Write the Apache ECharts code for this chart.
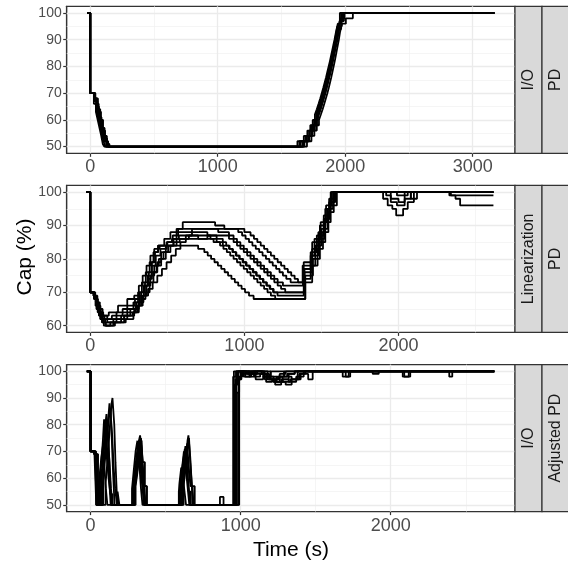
<!DOCTYPE html>
<html><head><meta charset="utf-8">
<script src="https://cdn.jsdelivr.net/npm/echarts@6/dist/echarts.min.js"></script>
<style>html,body{margin:0;padding:0;background:#fff}#c{width:568px;height:562px}</style>
</head><body><div id="c"></div>
<script>
// ---------- data (time in s, cap in %) ----------
const ioPdRuns = [
 [[-25,100],[0,70],[32,68],[48,65],[62,62],[76,58],[90,55],[104,52],[118,50],[1650,52],[1695,54],[1722,56],[1743,58],[1761,60],[1777,62],[1791,64],[1804,66],[1816,68],[1828,70],[1840,72],[1851,74],[1862,76],[1872,78],[1881,80],[1890,82],[1899,84],[1908,86],[1916,88],[1925,90],[1937,93],[1950,96],[1968,100],[3170,100]],
 [[-25,100],[0,70],[38,67],[56,64],[72,61],[88,57],[104,54],[122,52],[140,50],[1680,52],[1718,54],[1742,56],[1762,58],[1779,60],[1794,62],[1808,64],[1821,66],[1833,68],[1845,70],[1856,72],[1866,74],[1876,76],[1886,78],[1895,80],[1904,82],[1912,84],[1921,86],[1930,88],[1939,90],[1952,94],[1968,97],[1990,100],[3170,100]],
 [[-25,100],[0,70],[28,66],[44,63],[58,60],[72,57],[86,54],[98,51],[110,50],[1625,52],[1675,54],[1703,56],[1726,58],[1745,60],[1762,62],[1777,64],[1791,66],[1804,68],[1816,70],[1828,72],[1839,74],[1850,76],[1860,78],[1870,80],[1880,82],[1889,84],[1898,86],[1907,88],[1916,90],[1928,93],[1942,96],[1958,100],[3170,100]],
 [[-25,100],[0,70],[35,69],[50,66],[66,62],[80,59],[95,56],[110,53],[128,50],[1665,52],[1708,54],[1733,56],[1753,58],[1770,60],[1786,62],[1800,64],[1813,66],[1825,68],[1837,70],[1849,72],[1860,74],[1870,76],[1880,78],[1889,80],[1898,82],[1906,84],[1915,86],[1923,88],[1931,90],[1944,92],[1956,95],[1972,98],[1995,100],[3170,100]],
 [[-25,100],[0,70],[40,68],[60,64],[78,60],[96,57],[112,54],[130,51],[150,50],[1700,52],[1735,54],[1758,56],[1777,58],[1794,60],[1809,62],[1823,64],[1836,66],[1848,68],[1860,70],[1871,72],[1881,74],[1891,76],[1900,78],[1909,80],[1918,82],[1926,84],[1934,86],[1942,88],[1950,90],[1960,93],[1975,96],[2005,98],[2060,100],[3170,100]],
 [[-25,100],[0,70],[30,67],[46,64],[60,61],[75,58],[92,55],[108,52],[125,50],[1640,52],[1688,54],[1716,56],[1738,58],[1756,60],[1772,62],[1786,64],[1800,66],[1812,68],[1824,70],[1836,72],[1847,74],[1858,76],[1868,78],[1878,80],[1887,82],[1896,84],[1905,86],[1914,88],[1924,91],[1938,95],[1955,97],[1978,100],[3170,100]],
 [[-25,100],[0,70],[36,68],[52,65],[68,63],[84,60],[100,56],[116,53],[132,51],[145,50],[1672,52],[1712,54],[1737,56],[1757,58],[1774,60],[1789,62],[1803,64],[1816,66],[1828,68],[1840,70],[1851,72],[1862,74],[1873,76],[1883,78],[1892,80],[1901,82],[1910,84],[1918,86],[1926,88],[1935,91],[1948,94],[1962,98],[1982,100],[3170,100]]
];
const linPdRuns = [
 [[-25,100],[0,70],[22,69],[36,67],[50,65],[68,63],[92,62],[140,63],[210,65],[280,67],[310,70],[335,73],[360,76],[385,79],[410,82],[440,84],[480,86],[520,88],[560,89],[600,91],[810,90],[870,89],[960,88],[985,87],[1008,86],[1030,85],[1052,84],[1074,83],[1096,82],[1118,81],[1140,80],[1162,79],[1184,78],[1206,77],[1228,76],[1250,75],[1272,74],[1300,73],[1385,79],[1440,85],[1490,90],[1525,95],[1560,100],[1900,98],[1930,96],[1960,95],[1985,93],[2030,95],[2060,97],[2100,100],[2616,100]],
 [[-25,100],[0,70],[26,68],[42,66],[60,64],[82,62],[110,61],[170,62],[240,64],[295,66],[322,69],[348,72],[372,75],[398,78],[425,81],[455,83],[495,85],[535,87],[570,89],[830,88],[900,87],[930,86],[952,85],[974,84],[996,83],[1018,82],[1040,81],[1062,80],[1084,79],[1106,78],[1128,77],[1150,76],[1172,75],[1194,74],[1216,73],[1250,72],[1380,77],[1430,82],[1470,87],[1515,92],[1550,97],[1585,100],[1920,99],[1950,97],[1990,96],[2040,98],[2080,100],[2330,99],[2370,98],[2400,96],[2616,96]],
 [[-25,100],[0,70],[20,69],[34,66],[48,64],[64,62],[88,60],[130,61],[200,63],[260,65],[300,67],[330,70],[355,73],[380,76],[400,79],[420,82],[440,84],[500,85],[530,86],[560,88],[760,87],[820,86],[860,85],[882,84],[904,83],[926,82],[948,81],[970,80],[992,79],[1014,78],[1036,77],[1058,76],[1080,75],[1102,74],[1124,73],[1146,72],[1168,71],[1190,70],[1390,76],[1440,81],[1480,86],[1520,92],[1555,97],[1590,100],[1950,98],[2000,97],[2040,99],[2060,100],[2616,100]],
 [[-25,100],[0,70],[24,68],[40,65],[56,63],[76,61],[100,60],[160,61],[230,62],[280,64],[315,66],[340,69],[365,72],[390,75],[415,78],[445,80],[475,82],[505,84],[540,86],[575,87],[780,86],[820,85],[842,84],[864,83],[886,82],[908,81],[930,80],[952,79],[974,78],[996,77],[1018,76],[1040,75],[1062,74],[1084,73],[1106,72],[1128,71],[1150,70],[1172,69],[1200,68],[1395,75],[1445,80],[1490,85],[1525,91],[1560,96],[1600,100],[2080,98],[2120,100],[2340,99],[2616,99]],
 [[-25,100],[0,70],[30,69],[46,67],[62,65],[80,63],[110,62],[170,64],[240,66],[290,68],[320,70],[350,72],[375,74],[400,76],[430,78],[460,80],[490,82],[520,84],[560,86],[800,85],[860,84],[900,83],[922,82],[944,81],[966,80],[988,79],[1010,78],[1032,77],[1054,76],[1076,75],[1098,74],[1120,73],[1142,72],[1164,71],[1186,70],[1215,69],[1385,74],[1430,78],[1460,84],[1500,89],[1540,95],[1575,100],[1990,99],[2040,100],[2616,100]],
 [[-25,100],[0,70],[28,68],[44,65],[60,63],[78,61],[100,60],[150,61],[220,63],[285,65],[315,67],[345,69],[375,71],[405,73],[435,75],[465,77],[495,79],[525,81],[555,83],[585,85],[620,87],[660,89],[1000,88],[1040,87],[1062,86],[1084,85],[1106,84],[1128,83],[1150,82],[1172,81],[1194,80],[1216,79],[1238,78],[1260,77],[1282,76],[1304,75],[1326,74],[1348,73],[1378,78],[1430,81],[1455,86],[1495,91],[1530,96],[1565,100],[2616,100]],
 [[-25,100],[0,70],[25,69],[38,67],[54,64],[72,62],[96,61],[150,62],[220,63],[275,64],[305,66],[332,68],[358,70],[385,73],[410,76],[435,79],[460,82],[490,84],[700,83],[740,82],[762,81],[784,80],[806,79],[828,78],[850,77],[872,76],[894,75],[916,74],[938,73],[960,72],[982,71],[1004,70],[1030,69],[1060,68],[1395,73],[1440,78],[1475,83],[1510,88],[1545,94],[1580,100],[2616,100]],
 [[-25,100],[0,70],[32,68],[50,66],[66,64],[84,63],[120,64],[180,66],[240,68],[285,69],[315,72],[340,75],[365,78],[390,81],[415,83],[450,84],[540,85],[580,86],[640,87],[700,86],[760,87],[900,86],[930,85],[952,84],[974,83],[996,82],[1018,81],[1040,80],[1062,79],[1084,78],[1106,77],[1128,76],[1150,75],[1172,74],[1194,73],[1216,72],[1238,71],[1265,70],[1390,77],[1440,83],[1480,88],[1515,93],[1550,98],[1580,100],[2616,100]]
];
const ioAdjRuns = [
 [[-25,100],[0,70],[28,69],[45,50],[100,58],[112,66],[122,74],[132,82],[140,88],[146,90],[158,80],[166,66],[178,50],[290,57],[302,64],[314,71],[326,74],[340,68],[352,58],[362,50],[598,58],[610,64],[622,70],[634,64],[646,57],[658,50],[965,97],[985,100],[1040,99],[1080,100],[1150,98],[1200,97],[1250,98],[1290,100],[1700,98],[1730,100],[2690,100]],
 [[-25,100],[0,70],[35,69],[48,50],[68,56],[78,64],[88,72],[98,80],[106,84],[118,76],[128,62],[138,50],[282,56],[294,62],[306,68],[318,73],[330,76],[342,70],[354,60],[366,50],[612,56],[624,62],[636,68],[646,74],[652,76],[664,68],[676,56],[688,50],[975,92],[990,98],[1010,100],[1060,98],[1090,100],[1180,97],[1230,95],[1270,97],[1320,99],[1360,100],[2080,98],[2130,100],[2690,100]],
 [[-25,100],[0,70],[30,69],[40,50],[60,58],[72,66],[82,74],[90,82],[100,77],[112,70],[124,60],[134,50],[276,56],[288,63],[300,70],[312,74],[324,66],[336,56],[346,50],[592,58],[604,64],[616,60],[626,55],[636,50],[955,100],[1000,99],[1050,100],[1100,99],[1180,98],[1220,96],[1280,97],[1320,96],[1370,98],[1420,100],[2690,100]],
 [[-25,100],[0,70],[32,69],[44,50],[80,57],[92,64],[104,72],[114,78],[124,84],[132,86],[142,74],[150,62],[160,50],[296,58],[308,66],[320,72],[332,70],[344,62],[356,50],[620,57],[632,63],[644,70],[656,75],[664,66],[674,58],[684,50],[862,53],[886,50],[985,97],[1000,100],[1070,99],[1110,100],[1200,98],[1240,96],[1300,95],[1340,97],[1400,99],[1450,97],[1480,100],[2390,98],[2410,100],[2690,100]],
 [[-25,100],[0,70],[26,69],[38,50],[52,56],[62,62],[72,68],[82,72],[92,64],[102,56],[112,50],[180,55],[192,50],[284,57],[296,60],[308,66],[320,72],[334,63],[346,56],[358,50],[604,60],[616,66],[628,71],[640,66],[652,58],[664,50],[970,100],[1030,98],[1070,100],[1140,99],[1190,97],[1240,98],[1280,96],[1330,97],[1380,100],[1680,98],[1720,100],[2690,100]],
 [[-25,100],[0,70],[36,69],[46,50],[74,60],[86,68],[96,76],[108,82],[116,74],[126,66],[136,56],[146,50],[300,57],[312,62],[324,68],[336,74],[346,65],[358,57],[372,50],[596,56],[608,61],[620,66],[632,72],[642,63],[654,55],[668,50],[990,97],[1005,100],[1090,98],[1130,99],[1170,96],[1210,97],[1260,99],[1300,100],[1880,99],[1920,100],[2690,100]],
 [[-25,100],[0,70],[22,69],[38,50],[58,55],[70,63],[84,70],[96,75],[108,68],[120,60],[132,54],[146,50],[288,54],[300,60],[312,66],[324,72],[336,75],[348,66],[362,57],[376,50],[608,58],[620,63],[632,68],[644,73],[654,64],[666,57],[680,50],[960,95],[980,100],[1050,99],[1100,97],[1150,98],[1200,100],[1290,98],[1340,97],[1390,99],[1430,100],[2090,98],[2120,100],[2690,100]],
 [[-25,100],[0,70],[30,69],[50,50],[84,62],[96,70],[106,77],[116,81],[126,88],[134,84],[144,76],[154,64],[164,56],[176,50],[292,55],[304,60],[316,65],[328,69],[340,63],[352,57],[364,50],[588,55],[600,60],[612,57],[624,63],[636,70],[648,66],[660,60],[672,57],[694,50],[950,98],[970,100],[1020,98],[1060,99],[1100,100],[1160,97],[1220,96],[1260,98],[1310,99],[1360,100],[2690,100]]
];
const xTicksTop = [0, 1000, 2000, 3000];
const xMinorTop = [500, 1500, 2500];
const xTicksLow = [0, 1000, 2000];
const xMinorLow = [500, 1500, 2500];
const yTicksIO = [50, 60, 70, 80, 90, 100];
const yMinorIO = [55, 65, 75, 85, 95];
const yTicksLin = [60, 70, 80, 90, 100];
const yMinorLin = [65, 75, 85, 95];
const stripOuter = ['I/O', 'Linearization', 'I/O'];
const stripInner = ['PD', 'PD', 'Adjusted PD'];
const xTitle = 'Time (s)';
const yTitle = 'Cap (%)';

// ---------- layout ----------
const FONT = '"Liberation Sans", Arial, Helvetica, sans-serif';
const L = 66.7, W = 448.3, H = 147;
const panels = [
  {top: 6.3,   xmin: -185, xmax: 3332, ymin: 47.5, ymax: 102.5, runs: ioPdRuns,  xM: xTicksTop, xm: xMinorTop, yM: yTicksIO,  ym: yMinorIO},
  {top: 185.4, xmin: -153, xmax: 2756, ymin: 58,   ymax: 102,   runs: linPdRuns, xM: xTicksLow, xm: xMinorLow, yM: yTicksLin, ym: yMinorLin},
  {top: 364.6, xmin: -159, xmax: 2828, ymin: 47.5, ymax: 102.5, runs: ioAdjRuns, xM: xTicksLow, xm: xMinorLow, yM: yTicksIO,  ym: yMinorIO}
];
const majorStyle = {color: '#ebebeb', width: 1.3, type: 'solid'};
const minorStyle = {color: '#f0f0f0', width: 0.7, type: 'solid'};

const grids = [], xAxes = [], yAxes = [], series = [], graphics = [];
panels.forEach((p, i) => {
  grids.push({left: L, top: p.top, width: W, height: H, show: true, backgroundColor: '#fff', borderColor: '#333', borderWidth: 1.2, containLabel: false});
  xAxes.push({gridIndex: i, type: 'value', min: p.xmin, max: p.xmax,
    axisLine: {show: true, onZero: false, lineStyle: {color: '#333', width: 1.2}},
    splitLine: {show: false},
    axisTick: {show: true, length: 3.5, lineStyle: {color: '#333', width: 1.2}, customValues: p.xM},
    axisLabel: {customValues: p.xM, fontSize: 18, color: '#4d4d4d', margin: 5, fontFamily: FONT, formatter: v => String(v)}
  });
  yAxes.push({gridIndex: i, type: 'value', min: p.ymin, max: p.ymax,
    axisLine: {show: true, onZero: false, lineStyle: {color: '#333', width: 1.2}},
    splitLine: {show: false},
    axisTick: {show: true, length: 3.5, lineStyle: {color: '#333', width: 1.2}, customValues: p.yM},
    axisLabel: {customValues: p.yM, fontSize: 14, color: '#4d4d4d', margin: 5, fontFamily: FONT, formatter: v => String(v)}
  });
  const ml = [];
  p.xm.forEach(v => ml.push({xAxis: v, lineStyle: minorStyle}));
  p.ym.forEach(v => ml.push({yAxis: v, lineStyle: minorStyle}));
  p.xM.forEach(v => ml.push({xAxis: v, lineStyle: majorStyle}));
  p.yM.forEach(v => ml.push({yAxis: v, lineStyle: majorStyle}));
  series.push({type: 'line', xAxisIndex: i, yAxisIndex: i, data: [], z: 1, silent: true, animation: false,
    markLine: {z: 1, silent: true, symbol: ['none', 'none'], label: {show: false}, emphasis: {disabled: true}, animation: false, data: ml}});
  p.runs.forEach(r => series.push({type: 'line', xAxisIndex: i, yAxisIndex: i, data: r, step: 'end',
    symbol: 'none', showSymbol: false, silent: true, animation: false, z: 3,
    lineStyle: {color: '#000', width: 1.8}}));
  // strips
  const cy = p.top + H / 2;
  graphics.push({type: 'rect', shape: {x: 515, y: p.top, width: 27, height: H}, style: {fill: '#d9d9d9', stroke: '#333', lineWidth: 1.2}, z: 10});
  graphics.push({type: 'rect', shape: {x: 542, y: p.top, width: 30, height: H}, style: {fill: '#d9d9d9', stroke: '#333', lineWidth: 1.2}, z: 10});
  graphics.push({type: 'text', x: 528.5, y: cy, rotation: Math.PI / 2, z: 11,
    style: {text: stripOuter[i], fill: '#1a1a1a', font: '16px ' + FONT, align: 'center', verticalAlign: 'middle', textAlign: 'center', textVerticalAlign: 'middle'}});
  graphics.push({type: 'text', x: 555.5, y: cy, rotation: Math.PI / 2, z: 11,
    style: {text: stripInner[i], fill: '#1a1a1a', font: '16px ' + FONT, align: 'center', verticalAlign: 'middle', textAlign: 'center', textVerticalAlign: 'middle'}});
});
graphics.push({type: 'text', x: 291, y: 550, z: 11,
  style: {text: xTitle, fill: '#000', font: '21px ' + FONT, align: 'center', verticalAlign: 'middle', textAlign: 'center', textVerticalAlign: 'middle'}});
graphics.push({type: 'text', x: 25.5, y: 257, rotation: Math.PI / 2, z: 11,
  style: {text: yTitle, fill: '#000', font: '21px ' + FONT, align: 'center', verticalAlign: 'middle', textAlign: 'center', textVerticalAlign: 'middle'}});

const chart = echarts.init(document.getElementById('c'), null, {renderer: 'canvas'});
chart.setOption({animation: false, backgroundColor: '#fff', grid: grids, xAxis: xAxes, yAxis: yAxes, series: series, graphic: graphics});
</script></body></html>
